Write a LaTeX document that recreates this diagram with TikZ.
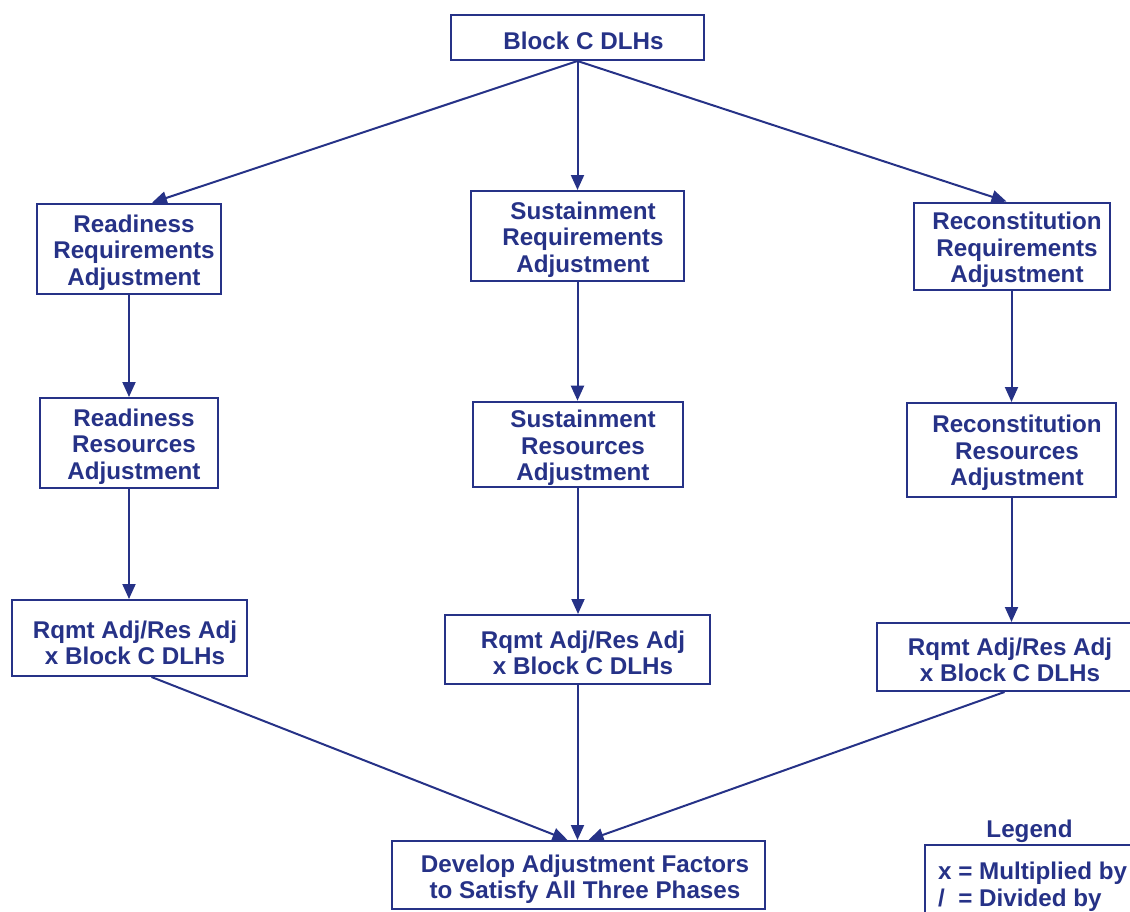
\documentclass[tikz,border=0pt]{standalone}
\usepackage{fontspec}
\setmainfont{Liberation Sans}
\usetikzlibrary{arrows.meta}
\definecolor{navy}{RGB}{38,50,135}
\begin{document}
\begin{tikzpicture}[x=1pt,y=-1pt,
  box/.style={draw=navy,line width=2pt,fill=white,rectangle,inner sep=0pt},
  txt/.style={inner sep=0pt,align=center,text=navy,font=\bfseries\fontsize{24.2}{26.5}\selectfont},
  arr/.style={draw=navy,line width=2pt,-{Triangle[length=15pt,width=13pt]}}]
\useasboundingbox (0,0) rectangle (1130,911);
\clip (0,0) rectangle (1130,911);
\node[box,minimum width=253pt,minimum height=45pt] (top) at (577.5,37.5) {};
\node[txt] (topt) at ([shift={(6,3.5)}]top.center) {Block C DLHs};
\node[box,minimum width=184pt,minimum height=90pt,line width=2.6pt] (rr) at (129,249) {};
\node[txt] (rrt) at ([shift={(5,3.5)}]rr.center) {Readiness\\Requirements\\Adjustment};
\node[box,minimum width=213pt,minimum height=90pt] (sr) at (577.5,236) {};
\node[txt] (srt) at ([shift={(5.5,3.5)}]sr.center) {Sustainment\\Requirements\\Adjustment};
\node[box,minimum width=196pt,minimum height=87pt] (cr) at (1011.5,246) {};
\node[txt] (crt) at ([shift={(5.5,4)}]cr.center) {Reconstitution\\Requirements\\Adjustment};
\node[box,minimum width=178pt,minimum height=90pt] (rres) at (129,443) {};
\node[txt] (rrest) at ([shift={(5,3.5)}]rres.center) {Readiness\\Resources\\Adjustment};
\node[box,minimum width=210pt,minimum height=85pt,line width=2.6pt] (sres) at (578,444.5) {};
\node[txt] (srest) at ([shift={(5,3.5)}]sres.center) {Sustainment\\Resources\\Adjustment};
\node[box,minimum width=209pt,minimum height=94pt] (cres) at (1011.5,450) {};
\node[txt] (crest) at ([shift={(5.5,3)}]cres.center) {Reconstitution\\Resources\\Adjustment};
\node[box,minimum width=235pt,minimum height=76pt] (rl) at (129.5,638) {};
\node[txt] (rlt) at ([shift={(5.5,5)}]rl.center) {Rqmt Adj/Res Adj\\x Block C DLHs};
\node[box,minimum width=265pt,minimum height=69pt] (rm) at (577.5,649.5) {};
\node[txt] (rmt) at ([shift={(5.5,3.5)}]rm.center) {Rqmt Adj/Res Adj\\x Block C DLHs};
\node[box,minimum width=255pt,minimum height=68pt] (rrq) at (1004.5,657) {};
\node[txt] (rrqt) at ([shift={(5.5,3)}]rrq.center) {Rqmt Adj/Res Adj\\x Block C DLHs};
\node[box,minimum width=373pt,minimum height=68pt] (bot) at (578.5,875) {};
\node[txt] (bott) at ([shift={(6.5,4)}]bot.center) {Develop Adjustment Factors\\to Satisfy All Three Phases};
% legend
\node[txt] (legt) at (1029.5,831) {Legend};
\node[draw=navy,line width=2pt,minimum width=215pt,minimum height=80pt,inner sep=0pt] (legbox) at (1032.5,885) {};
\node[txt,anchor=north west,align=left] (legtxt) at (938,862) {x = Multiplied by\\\makebox[0pt][l]{/}\phantom{x} = Divided by};
% arrows
\draw[arr] (top.south) -- ([xshift=23pt]rr.north);
\draw[arr] (top.south) -- (sr.north);
\draw[arr] (top.south) -- ([xshift=-5pt]cr.north);
\draw[arr] (rr.south) -- (rr.south |- rres.north);
\draw[arr] (sr.south) -- (sr.south |- sres.north);
\draw[arr] (cr.south) -- (cr.south |- cres.north);
\draw[arr] (rres.south) -- (rres.south |- rl.north);
\draw[arr] (sres.south) -- (sres.south |- rm.north);
\draw[arr] (cres.south) -- (cres.south |- rrq.north);
\draw[arr] ([xshift=22pt]rl.south) -- ([xshift=-11pt]bot.north);
\draw[arr] (rm.south) -- (rm.south |- bot.north);
\draw[arr] (rrq.south) -- ([xshift=10pt]bot.north);
\end{tikzpicture}
\end{document}
